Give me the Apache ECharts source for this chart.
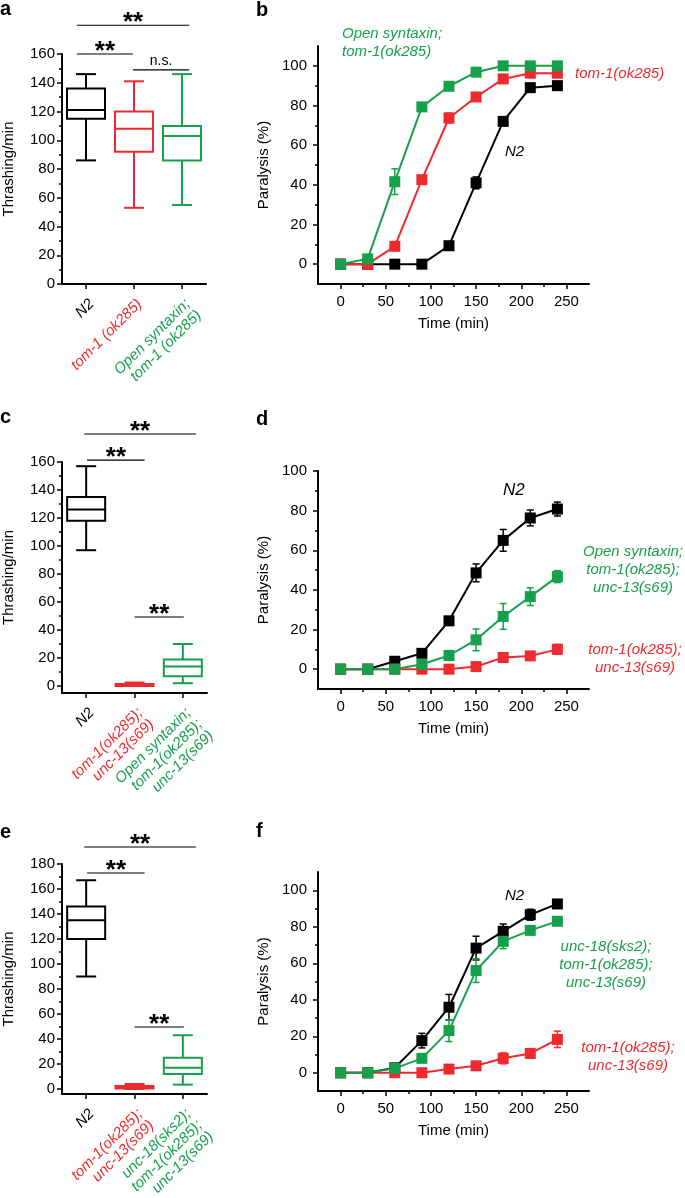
<!DOCTYPE html>
<html lang="en">
<head>
<meta charset="UTF-8">
<title>Thrashing and paralysis</title>
<script src="https://cdn.jsdelivr.net/npm/echarts@6/dist/echarts.min.js"></script>
<style>
  body { margin: 0; padding: 0; background: #fff; }
  #chart { width: 685px; height: 1198px; }
</style>
</head>
<body>
<div id="chart"></div>
<script>
var RED = '#ee2a2e', GREEN = '#17a04b', BLACK = '#000';
var FONT = '"Liberation Sans", Arial, Helvetica, sans-serif';

// categories of the box panels
var catsA = ['N2', 'tom-1 (ok285)', 'Open syntaxin;\ntom-1 (ok285)'];
var catsC = ['N2', 'tom-1(ok285);\nunc-13(s69)', 'Open syntaxin;\ntom-1(ok285);\nunc-13(s69)'];
var catsE = ['N2', 'tom-1(ok285);\nunc-13(s69)', 'unc-18(sks2);\ntom-1(ok285);\nunc-13(s69)'];
var catColors = [BLACK, RED, GREEN];

// thrashing boxes: [min, Q1, median, Q3, max]
var boxA = [[86, 115, 121, 136, 146], [53, 92, 108, 120, 141], [55, 86, 103, 110, 146]];
var boxC = [[97, 118, 126, 135, 157], [0, 0, 1, 1.5, 2.5], [2, 7, 14, 19, 30]];
var boxE = [[90, 120, 135, 146, 167], [0, 0.5, 1.5, 2.5, 4], [3.5, 12, 17, 25, 43]];

// significance brackets: [from cat, to cat, y, text]
var sigA = [[-0.19, 2.15, 180, '**'], [-0.19, 0.98, 160, '**'], [0.98, 2.15, 149, 'n.s.']];
var sigC = [[-0.04, 2.27, 180, '**'], [0.02, 1.21, 161.4, '**'], [1.0, 2.02, 49.3, '**']];
var sigE = [[-0.04, 2.27, 193.6, '**'], [0.02, 1.21, 172.8, '**'], [1.0, 2.02, 49.6, '**']];

// paralysis time courses
var time = [0, 30, 60, 90, 120, 150, 180, 210, 240];
var bN2 = [0, 0, 0, 0, 9.3, 41, 72, 89, 90];
var bN2Err = [0.5, 0.5, 0.5, 0.5, 1.5, 3, 2, 2, 1.5];
var bTom = [0, 0, 9, 42.6, 73.7, 84.3, 93.4, 96.3, 96.3];
var bTomErr = [0.5, 0.5, 1.5, 2, 2.5, 2, 1.5, 1, 1];
var bOpen = [0, 2.7, 41.6, 79.3, 89.7, 96.8, 100, 100, 100];
var bOpenErr = [0.5, 1, 6.5, 1.5, 1.5, 1.5, 0.5, 0.5, 0.5];

var dN2 = [0, 0, 4, 8, 24.4, 48.6, 65, 76.3, 80.8];
var dN2Err = [0, 0, 1, 1.5, 2, 4.5, 5.5, 4, 3.5];
var dTom = [0, 0, 0, 0, 0, 1.3, 5.9, 6.7, 10];
var dTomErr = [0, 0, 0, 0, 0, 1.5, 1.5, 2, 2.5];
var dOpen = [0, 0, 0, 2.5, 6.9, 14.8, 26.6, 36.6, 46.7];
var dOpenErr = [0, 0, 0, 1, 2.5, 5.5, 6.5, 4.5, 3];

var fN2 = [0, 0, 2.7, 17.6, 35.9, 68.3, 77.5, 86.6, 92.5];
var fN2Err = [0, 0, 1, 4, 7, 6.5, 4, 3, 1.5];
var fTom = [0, 0, 0, 0, 2, 3.8, 7.9, 10.6, 18.3];
var fTomErr = [0, 0, 0, 0, 1, 1.5, 3, 2.5, 4.5];
var fUnc = [0, 0, 2.4, 7.9, 23.1, 56, 72, 78, 83];
var fUncErr = [0, 0, 1, 1.5, 6, 6.5, 4, 2, 1.5];

// tick labels
var thrashTicks = [0, 20, 40, 60, 80, 100, 120, 140, 160];
var thrashMinor = [10, 30, 50, 70, 90, 110, 130, 150];
var thrashTicksE = [0, 20, 40, 60, 80, 100, 120, 140, 160, 180];
var thrashMinorE = [10, 30, 50, 70, 90, 110, 130, 150, 170];
var paraTicks = [0, 20, 40, 60, 80, 100];
var paraMinor = [10, 30, 50, 70, 90];
var timeTicks = [0, 50, 100, 150, 200, 250];
var timeMinor = [25, 75, 125, 175, 225];

var chart = echarts.init(document.getElementById('chart'), null, {renderer: 'canvas'});

var grids = [
  {left: 62, top: 54, width: 144, height: 230},
  {left: 318, top: 46, width: 271, height: 238},
  {left: 62, top: 462, width: 145, height: 231},
  {left: 318, top: 471, width: 271, height: 218},
  {left: 62, top: 864, width: 145, height: 230},
  {left: 318, top: 872, width: 271, height: 219}
];
grids.forEach(function (g) { g.outerBoundsMode = 'none'; g.containLabel = false; });

var xAxes = [], yAxes = [];
var axisLine = {show: true, onZero: false, lineStyle: {color: '#000', width: 2}};
var tickStyle = {color: '#000', width: 1.5};
var labelFont = {fontSize: 15, color: '#000', fontFamily: FONT};

function addY(gi, min, max, major, minor, name, gap, margin) {
  var idx = yAxes.length;
  yAxes.push({
    type: 'value', gridIndex: gi, position: 'left', min: min, max: max,
    name: name, nameLocation: 'middle', nameGap: gap, nameTextStyle: labelFont,
    axisLine: axisLine,
    axisTick: {show: true, customValues: major, length: 5, lineStyle: tickStyle},
    axisLabel: Object.assign({customValues: major, margin: margin}, labelFont),
    splitLine: {show: false}
  });
  yAxes.push({
    type: 'value', gridIndex: gi, position: 'left', offset: 0, min: min, max: max,
    axisLine: {show: false, onZero: false},
    axisTick: {show: true, customValues: minor, length: 3, lineStyle: tickStyle},
    axisLabel: {show: false}, splitLine: {show: false}
  });
  return idx;
}

function addTimeX(gi) {
  var idx = xAxes.length;
  xAxes.push({
    type: 'value', gridIndex: gi, position: 'bottom', min: -25, max: 275,
    name: 'Time (min)', nameLocation: 'middle', nameGap: 32, nameTextStyle: labelFont,
    axisLine: axisLine,
    axisTick: {show: true, customValues: timeTicks, length: 5, lineStyle: tickStyle},
    axisLabel: Object.assign({customValues: timeTicks, margin: 10}, labelFont),
    splitLine: {show: false}
  });
  xAxes.push({
    type: 'value', gridIndex: gi, position: 'bottom', offset: 0, min: -25, max: 275,
    axisLine: {show: false, onZero: false},
    axisTick: {show: true, customValues: timeMinor, length: 3, lineStyle: tickStyle},
    axisLabel: {show: false}, splitLine: {show: false}
  });
  return idx;
}

function addCatX(gi, cats) {
  var idx = xAxes.length;
  xAxes.push({
    type: 'category', gridIndex: gi, data: cats, boundaryGap: true,
    axisLine: axisLine,
    axisTick: {show: true, alignWithLabel: true, length: 5, lineStyle: tickStyle},
    axisLabel: {
      interval: 0, rotate: 45, margin: 12, fontSize: 15, fontStyle: 'italic',
      fontFamily: FONT, lineHeight: 16, align: 'right', verticalAlign: 'top',
      color: function (v, i) { return catColors[i]; }
    },
    splitLine: {show: false}
  });
  return idx;
}

function boxSeries(xi, yi, boxes) {
  return {
    type: 'custom', xAxisIndex: xi, yAxisIndex: yi, clip: false,
    data: boxes.map(function (b, i) { return [i].concat(b); }),
    encode: {x: 0, y: [1, 2, 3, 4, 5]},
    renderItem: function (params, api) {
      var i = api.value(0);
      var x = api.coord([i, 0])[0];
      var p = [1, 2, 3, 4, 5].map(function (d) { return api.coord([i, api.value(d)])[1]; });
      var col = catColors[i];
      var half = 19, cap = 10;
      var ls = {stroke: col, lineWidth: 2};
      return {type: 'group', children: [
        {type: 'line', shape: {x1: x, y1: p[4], x2: x, y2: p[3]}, style: ls},
        {type: 'line', shape: {x1: x, y1: p[1], x2: x, y2: p[0]}, style: ls},
        {type: 'line', shape: {x1: x - cap, y1: p[4], x2: x + cap, y2: p[4]}, style: ls},
        {type: 'line', shape: {x1: x - cap, y1: p[0], x2: x + cap, y2: p[0]}, style: ls},
        {type: 'rect', shape: {x: x - half, y: p[3], width: 2 * half, height: p[1] - p[3]},
          style: {stroke: col, lineWidth: 2, fill: '#fff'}},
        {type: 'line', shape: {x1: x - half, y1: p[2], x2: x + half, y2: p[2]}, style: ls}
      ]};
    }
  };
}

function errSeries(xi, yi, ys, errs, col) {
  return {
    type: 'custom', xAxisIndex: xi, yAxisIndex: yi,
    data: time.map(function (t, k) { return [t, ys[k], errs[k]]; }),
    renderItem: function (params, api) {
      var x = api.value(0), y = api.value(1), e = api.value(2);
      var hi = api.coord([x, y + e]), lo = api.coord([x, y - e]);
      var w = 3.5, st = {stroke: col, lineWidth: 1.5};
      return {type: 'group', children: [
        {type: 'line', shape: {x1: hi[0], y1: hi[1], x2: lo[0], y2: lo[1]}, style: st},
        {type: 'line', shape: {x1: hi[0] - w, y1: hi[1], x2: hi[0] + w, y2: hi[1]}, style: st},
        {type: 'line', shape: {x1: lo[0] - w, y1: lo[1], x2: lo[0] + w, y2: lo[1]}, style: st}
      ]};
    }
  };
}

function lineSeries(xi, yi, ys, col) {
  return {
    type: 'line', xAxisIndex: xi, yAxisIndex: yi,
    data: time.map(function (t, k) { return [t, ys[k]]; }),
    symbol: 'rect', symbolSize: 11, showAllSymbol: true,
    lineStyle: {color: col, width: 2}, itemStyle: {color: col}
  };
}

// axes
var xa = addCatX(0, catsA), ya = addY(0, 0, 160, thrashTicks, thrashMinor, 'Thrashing/min', 46, 7);
var xb = addTimeX(1), yb = addY(1, -10, 110, paraTicks, paraMinor, 'Paralysis (%)', 47, 11);
var xc = addCatX(2, catsC), yc = addY(2, -5, 160, thrashTicks, thrashMinor, 'Thrashing/min', 46, 7);
var xd = addTimeX(3), yd = addY(3, -10, 100, paraTicks, paraMinor, 'Paralysis (%)', 47, 11);
var xe = addCatX(4, catsE), ye = addY(4, -4, 180, thrashTicksE, thrashMinorE, 'Thrashing/min', 46, 7);
var xf = addTimeX(5), yf = addY(5, -10, 110, paraTicks, paraMinor, 'Paralysis (%)', 47, 11);

var series = [
  boxSeries(xa, ya, boxA), boxSeries(xc, yc, boxC), boxSeries(xe, ye, boxE),
  errSeries(xb, yb, bN2, bN2Err, BLACK), lineSeries(xb, yb, bN2, BLACK),
  errSeries(xb, yb, bTom, bTomErr, RED), lineSeries(xb, yb, bTom, RED),
  errSeries(xb, yb, bOpen, bOpenErr, GREEN), lineSeries(xb, yb, bOpen, GREEN),
  errSeries(xd, yd, dN2, dN2Err, BLACK), lineSeries(xd, yd, dN2, BLACK),
  errSeries(xd, yd, dTom, dTomErr, RED), lineSeries(xd, yd, dTom, RED),
  errSeries(xd, yd, dOpen, dOpenErr, GREEN), lineSeries(xd, yd, dOpen, GREEN),
  errSeries(xf, yf, fN2, fN2Err, BLACK), lineSeries(xf, yf, fN2, BLACK),
  errSeries(xf, yf, fTom, fTomErr, RED), lineSeries(xf, yf, fTom, RED),
  errSeries(xf, yf, fUnc, fUncErr, GREEN), lineSeries(xf, yf, fUnc, GREEN)
];

chart.setOption({
  animation: false,
  textStyle: {fontFamily: FONT},
  grid: grids,
  xAxis: xAxes,
  yAxis: yAxes,
  series: series
});

// annotations
function txt(x, y, s, opt) {
  opt = opt || {};
  return {
    type: 'text', x: x, y: y, silent: true,
    style: {
      text: s, fill: opt.color || '#000', fontSize: opt.size || 15,
      fontFamily: FONT, fontStyle: opt.italic === false ? 'normal' : 'italic',
      fontWeight: opt.weight || 'normal',
      align: opt.align || 'left', verticalAlign: 'middle'
    }
  };
}

function sigGraphics(xi, yi, sig) {
  var p0 = chart.convertToPixel({xAxisIndex: xi}, 0);
  var band = chart.convertToPixel({xAxisIndex: xi}, 1) - p0;
  var out = [];
  sig.forEach(function (s) {
    var x1 = p0 + s[0] * band, x2 = p0 + s[1] * band;
    var y = chart.convertToPixel({yAxisIndex: yi}, s[2]);
    out.push({type: 'line', silent: true, shape: {x1: x1, y1: y, x2: x2, y2: y},
      style: {stroke: '#000', lineWidth: 1.2}});
    if (s[3] === '**') {
      out.push(txt((x1 + x2) / 2, y - 2, '**', {size: 26, weight: 'bold', italic: false, align: 'center'}));
    } else {
      out.push(txt((x1 + x2) / 2, y - 9, s[3], {size: 14, italic: false, align: 'center'}));
    }
  });
  return out;
}

var graphics = [].concat(
  sigGraphics(xa, ya, sigA), sigGraphics(xc, yc, sigC), sigGraphics(xe, ye, sigE),
  [
    txt(0, 9, 'a', {size: 20, weight: 'bold', italic: false}),
    txt(256, 10, 'b', {size: 20, weight: 'bold', italic: false}),
    txt(0, 417, 'c', {size: 20, weight: 'bold', italic: false}),
    txt(256, 419, 'd', {size: 20, weight: 'bold', italic: false}),
    txt(0, 832, 'e', {size: 20, weight: 'bold', italic: false}),
    txt(256, 831, 'f', {size: 20, weight: 'bold', italic: false}),

    txt(342, 34, 'Open syntaxin;', {color: GREEN}),
    txt(342, 52, 'tom-1(ok285)', {color: GREEN}),
    txt(575, 74, 'tom-1(ok285)', {color: RED}),
    txt(505, 152, 'N2'),

    txt(503, 490, 'N2', {size: 17}),
    txt(633, 552, 'Open syntaxin;', {color: GREEN, align: 'center'}),
    txt(633, 570, 'tom-1(ok285);', {color: GREEN, align: 'center'}),
    txt(633, 588, 'unc-13(s69)', {color: GREEN, align: 'center'}),
    txt(635, 650, 'tom-1(ok285);', {color: RED, align: 'center'}),
    txt(635, 668, 'unc-13(s69)', {color: RED, align: 'center'}),

    txt(505, 896, 'N2'),
    txt(606, 947, 'unc-18(sks2);', {color: GREEN, align: 'center'}),
    txt(606, 965, 'tom-1(ok285);', {color: GREEN, align: 'center'}),
    txt(606, 983, 'unc-13(s69)', {color: GREEN, align: 'center'}),
    txt(628, 1048, 'tom-1(ok285);', {color: RED, align: 'center'}),
    txt(628, 1066, 'unc-13(s69)', {color: RED, align: 'center'})
  ]
);

chart.setOption({graphic: graphics});
</script>
</body>
</html>
